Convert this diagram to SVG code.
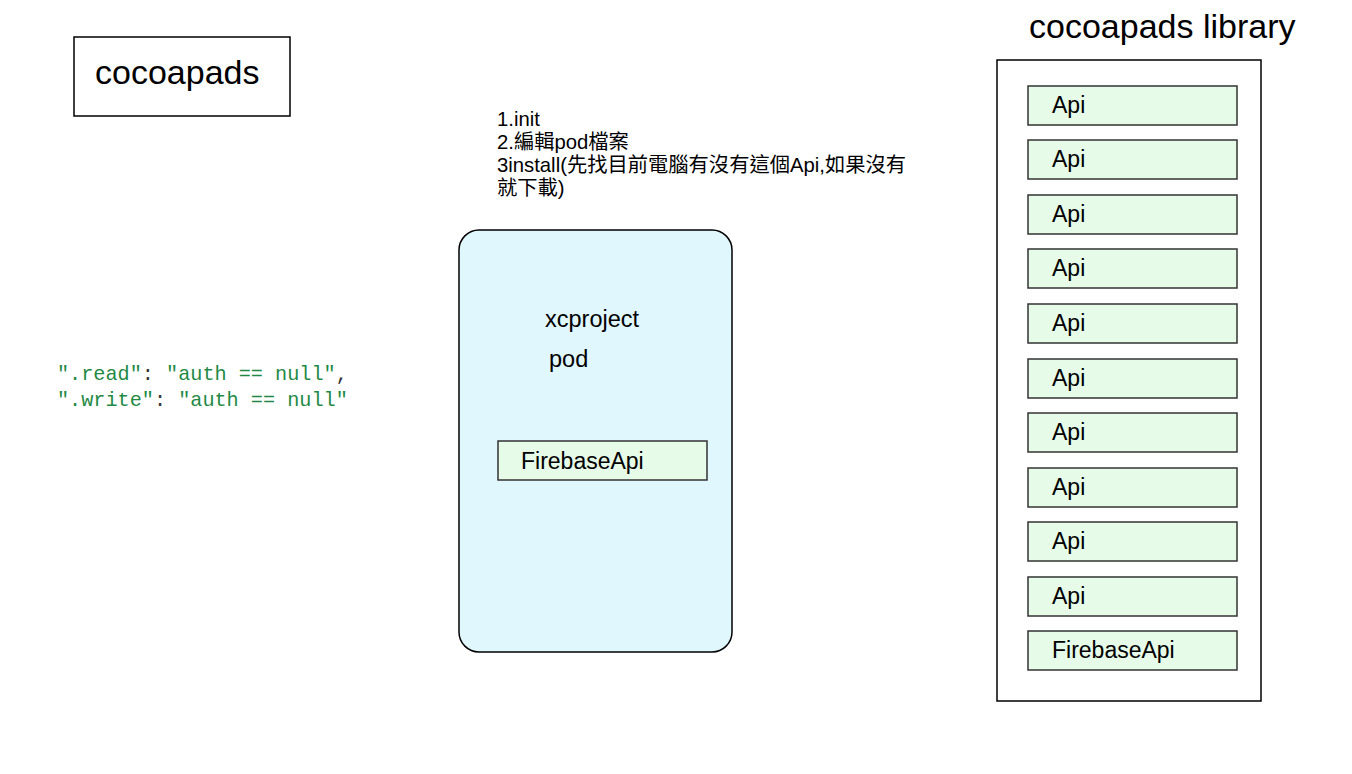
<svg xmlns="http://www.w3.org/2000/svg" width="1352" height="774" viewBox="0 0 1352 774">
<style>
.t{font-family:"Liberation Sans",Arial,"Noto Sans CJK TC",sans-serif;fill:#000}
.box{fill:#fff;stroke:#000;stroke-width:1.5}
.api{fill:#e6fbe8;stroke:#333;stroke-width:1.5}
.code{font-family:"Liberation Mono","DejaVu Sans Mono",monospace;font-size:20.2px}
.s{fill:#1f8a45}
.p{fill:#333}
</style>
<rect width="1352" height="774" fill="#fff"/>
<g id="cocoapads">
<rect class="box" x="74" y="37" width="216" height="79"/>
<text class="t" x="95" y="84" font-size="34">cocoapads</text>
</g>
<g id="steps">
<text class="t" font-size="20.3">
<tspan x="497" y="126">1.init</tspan>
<tspan x="497" y="149">2.編輯pod檔案</tspan>
<tspan x="497" y="172">3install(先找目前電腦有沒有這個Api,如果沒有</tspan>
<tspan x="497" y="195">就下載)</tspan>
</text>
</g>
<g id="code">
<text class="code" x="57" y="380"><tspan class="s">".read"</tspan><tspan class="p">: </tspan><tspan class="s">"auth == null"</tspan><tspan class="p">,</tspan></text>
<text class="code" x="57" y="406"><tspan class="s">".write"</tspan><tspan class="p">: </tspan><tspan class="s">"auth == null"</tspan></text>
</g>
<g id="xcproject">
<rect x="459" y="230" width="273" height="422" rx="20" fill="#e0f7fd" stroke="#000" stroke-width="1.5"/>
<text class="t" x="545" y="327" font-size="23.5">xcproject</text>
<text class="t" x="549" y="367" font-size="23.5">pod</text>
</g>
<g id="project-firebase">
<rect class="api" x="498" y="441" width="209" height="39"/>
<text class="t" x="521" y="469" font-size="23">FirebaseApi</text>
</g>
<g id="library">
<text class="t" x="1029" y="38" font-size="34">cocoapads library</text>
<rect class="box" x="997" y="60" width="264" height="641"/>
</g>
<g id="lib-items">
<g id="api1"><rect class="api" x="1028" y="86" width="209" height="39"/><text class="t" x="1052" y="113" font-size="23">Api</text></g>
<g id="api2"><rect class="api" x="1028" y="140" width="209" height="39"/><text class="t" x="1052" y="167" font-size="23">Api</text></g>
<g id="api3"><rect class="api" x="1028" y="195" width="209" height="39"/><text class="t" x="1052" y="222" font-size="23">Api</text></g>
<g id="api4"><rect class="api" x="1028" y="249" width="209" height="39"/><text class="t" x="1052" y="276" font-size="23">Api</text></g>
<g id="api5"><rect class="api" x="1028" y="304" width="209" height="39"/><text class="t" x="1052" y="331" font-size="23">Api</text></g>
<g id="api6"><rect class="api" x="1028" y="359" width="209" height="39"/><text class="t" x="1052" y="386" font-size="23">Api</text></g>
<g id="api7"><rect class="api" x="1028" y="413" width="209" height="39"/><text class="t" x="1052" y="440" font-size="23">Api</text></g>
<g id="api8"><rect class="api" x="1028" y="468" width="209" height="39"/><text class="t" x="1052" y="495" font-size="23">Api</text></g>
<g id="api9"><rect class="api" x="1028" y="522" width="209" height="39"/><text class="t" x="1052" y="549" font-size="23">Api</text></g>
<g id="api10"><rect class="api" x="1028" y="577" width="209" height="39"/><text class="t" x="1052" y="604" font-size="23">Api</text></g>
<g id="lib-firebase"><rect class="api" x="1028" y="631" width="209" height="39"/><text class="t" x="1052" y="658" font-size="23">FirebaseApi</text></g>
</g>
<g id="connectors"></g>
</svg>
